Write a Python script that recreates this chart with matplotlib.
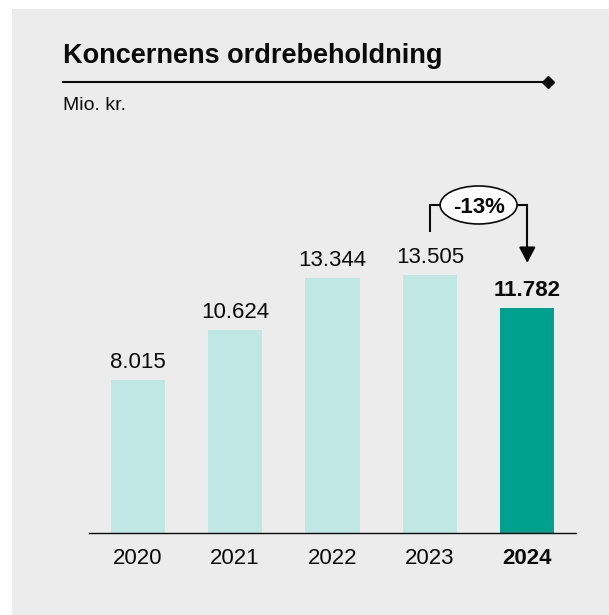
import matplotlib
matplotlib.use("Agg")
import matplotlib.pyplot as plt
from matplotlib.patches import Rectangle, Ellipse
from matplotlib.lines import Line2D

years = ["2020", "2021", "2022", "2023", "2024"]
values = [8015, 10624, 13344, 13505, 11782]
labels = ["8.015", "10.624", "13.344", "13.505", "11.782"]
change_label = "-13%"
title = "Koncernens ordrebeholdning"
unit = "Mio. kr."

W, H = 609, 615
DPI = 100
plt.rcParams['font.family'] = ['Liberation Sans', 'DejaVu Sans']

fig = plt.figure(figsize=(W / DPI, H / DPI), dpi=DPI, facecolor='white')
bg = '#ebeceb'
fig.patches.append(Rectangle((12 / W, 0), 1 - 12 / W, 1 - 9 / H,
                             transform=fig.transFigure, facecolor=bg,
                             edgecolor='none', zorder=-5))

def fx(px):
    return px / W

def fy(py):
    return 1 - py / H

# Title and unit
fig.text(fx(63), fy(63), title, fontsize=19.5, fontweight='bold',
         va='baseline', ha='left', color='#0a0a0a')
fig.add_artist(Line2D([fx(63), fx(548)], [fy(82), fy(82)], transform=fig.transFigure,
                      color='#0a0a0a', lw=1.5))
fig.add_artist(Line2D([fx(548)], [fy(82)], transform=fig.transFigure, marker='D',
                      markersize=6.5, color='#0a0a0a', lw=0))
fig.text(fx(63), fy(110), unit, fontsize=14, va='baseline', ha='left', color='#0a0a0a')

# Axes
ax_left, ax_right = 89, 576
ax_top, ax_bottom = 170, 533
ax = fig.add_axes([fx(ax_left), fy(ax_bottom), (ax_right - ax_left) / W,
                   (ax_bottom - ax_top) / H])
ax.set_facecolor('none')
ax.set_xlim(-0.5, 4.5)
ymax = 19000
ax.set_ylim(0, ymax)

light = '#bfe7e3'
dark = '#00a08f'
x = list(range(len(years)))
colors = [light] * (len(years) - 1) + [dark]
ax.bar(x, values, width=0.555, color=colors, zorder=2)

upy = ymax / 363.0  # data units per pixel

for i, (v, lab) in enumerate(zip(values, labels)):
    bold = (i == len(values) - 1)
    ax.text(i, v + 12 * upy, lab, ha='center', va='baseline', fontsize=16,
            fontweight='bold' if bold else 'normal', color='#0a0a0a')

for s in ['top', 'right', 'left']:
    ax.spines[s].set_visible(False)
ax.spines['bottom'].set_color('#0a0a0a')
ax.spines['bottom'].set_linewidth(1.0)
ax.set_yticks([])
ax.set_xticks(x)
ax.set_xticklabels(years, fontsize=16, color='#0a0a0a')
ax.tick_params(axis='x', length=0, pad=11)
ax.get_xticklabels()[-1].set_fontweight('bold')

# Change annotation
i0, i1 = 3, 4
level = values[i0] + 70 * upy
start = values[i0] + 43 * upy
tip = values[i1] + 45 * upy
ex = (i0 + i1) / 2
ew = 0.79
eh = 38 * upy
lw = 1.5
ax.plot([i0, i0, ex - ew / 2], [start, level, level], color='#0a0a0a', lw=lw,
        solid_capstyle='butt', solid_joinstyle='miter', zorder=3, clip_on=False)
ax.plot([ex + ew / 2, i1, i1], [level, level, tip + 11 * upy], color='#0a0a0a', lw=lw,
        solid_capstyle='butt', solid_joinstyle='miter', zorder=3, clip_on=False)
ax.annotate('', xy=(i1, tip), xytext=(i1, tip + 13 * upy),
            arrowprops=dict(arrowstyle='-|>,head_length=0.95,head_width=0.5',
                            color='#0a0a0a', lw=lw, shrinkA=0, shrinkB=0),
            annotation_clip=False)
ax.add_patch(Ellipse((ex, level), ew, eh, facecolor='white', edgecolor='#0a0a0a',
                     lw=1.2, zorder=4, clip_on=False))
ax.text(ex, level, change_label, ha='center', va='center_baseline', fontsize=16,
        fontweight='bold', color='#0a0a0a', zorder=5)

fig.savefig('out.png', dpi=DPI, facecolor=fig.get_facecolor())
